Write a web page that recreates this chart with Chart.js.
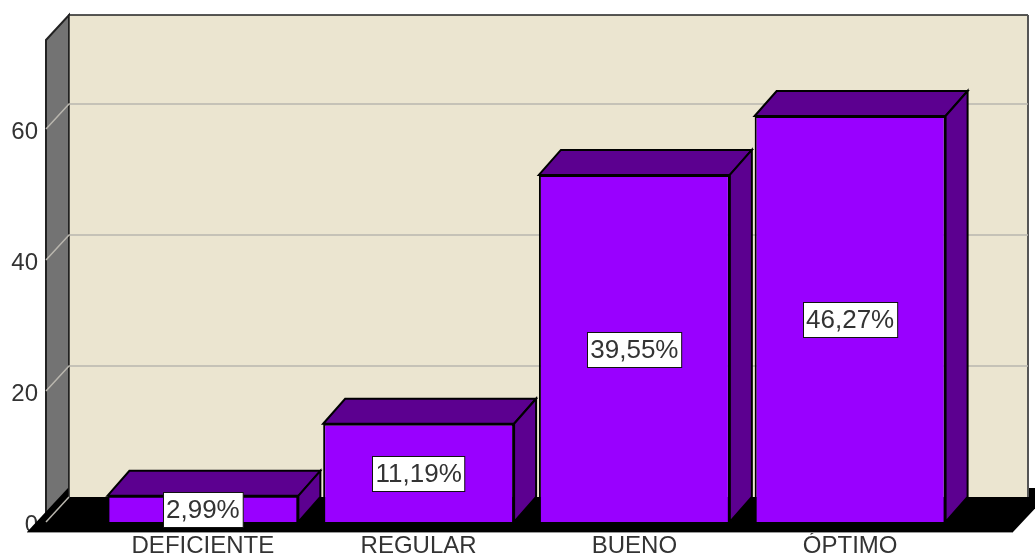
<!DOCTYPE html>
<html>
<head>
<meta charset="utf-8">
<style>html,body{margin:0;padding:0;background:#fff}canvas{display:block}</style>
<script src="https://cdn.jsdelivr.net/npm/chart.js@4"></script>
</head>
<body>
<canvas id="c" width="1035" height="555"></canvas>
<script>
const categories = ["DEFICIENTE", "REGULAR", "BUENO", "ÓPTIMO"];
const counts = [4, 15, 53, 62];
const percentLabels = ["2,99%", "11,19%", "39,55%", "46,27%"];
const yMax = 73.6;
const yStep = 20;
const FONT = '"Liberation Sans", Arial, sans-serif';

const barDepth = { dx: 22, dy: -25 };
const wallDepth = { dx: 23, dy: -25 };

function poly(ctx, pts, fill, stroke, lw) {
  ctx.beginPath();
  pts.forEach((p, i) => i ? ctx.lineTo(p[0], p[1]) : ctx.moveTo(p[0], p[1]));
  ctx.closePath();
  if (fill) { ctx.fillStyle = fill; ctx.fill(); }
  if (stroke) { ctx.strokeStyle = stroke; ctx.lineWidth = lw || 1; ctx.stroke(); }
}

const scene3d = {
  id: "scene3d",
  beforeDatasetsDraw(chart) {
    const ctx = chart.ctx, y = chart.scales.y;
    const base = y.getPixelForValue(0), top = y.getPixelForValue(yMax);
    const wl = 46, wr = 1005;
    const d = wallDepth;
    ctx.save();
    // left side wall
    poly(ctx, [[wl, top], [wl + d.dx, top + d.dy], [wl + d.dx, base + d.dy], [wl, base]], "#737373", "#222", 2);
    // floor slab
    poly(ctx, [[27, base + 10], [1013, base + 10], [1054, base - 34], [68, base - 34]], "#000");
    ctx.strokeStyle = "#999"; ctx.lineWidth = 1;
    ctx.beginPath(); ctx.moveTo(27, base + 10.5); ctx.lineTo(1013, base + 10.5); ctx.stroke();
    // back wall
    poly(ctx, [[wl + d.dx, top + d.dy], [wr + d.dx, top + d.dy], [wr + d.dx, base + d.dy], [wl + d.dx, base + d.dy]], "#ebe5d0");
    ctx.strokeStyle = "#222"; ctx.lineWidth = 1.5;
    ctx.beginPath(); ctx.moveTo(wl + d.dx, base + d.dy); ctx.lineTo(wl + d.dx, top + d.dy); ctx.lineTo(wr + d.dx, top + d.dy); ctx.stroke();
    ctx.strokeStyle = "#555"; ctx.lineWidth = 2;
    ctx.beginPath(); ctx.moveTo(wr + d.dx, top + d.dy); ctx.lineTo(wr + d.dx, base + d.dy); ctx.stroke();
    // grid lines: along the back wall and down the side wall
    y.ticks.forEach(t => {
      const py = y.getPixelForValue(t.value);
      ctx.strokeStyle = "#b9b6ae"; ctx.lineWidth = 1.5;
      ctx.beginPath();
      ctx.moveTo(wl, py); ctx.lineTo(wl + d.dx, py + d.dy);
      if (t.value !== 0) ctx.lineTo(wr + d.dx, py + d.dy);
      ctx.stroke();
    });
    // bar depth faces
    chart.getDatasetMeta(0).data.forEach(b => {
      const half = b.width / 2, l = b.x - half, r = b.x + half;
      const t = b.y, bt = b.base, q = barDepth;
      poly(ctx, [[l, t], [l + q.dx, t + q.dy], [r + q.dx, t + q.dy], [r, t]], "#5c0090", "#000", 2);
      poly(ctx, [[r, t], [r + q.dx, t + q.dy], [r + q.dx, bt + q.dy], [r, bt]], "#5c0090", "#000", 2);
    });
    ctx.restore();
  },
  afterDatasetsDraw(chart) {
    const ctx = chart.ctx;
    ctx.save();
    ctx.font = "26px " + FONT;
    ctx.textAlign = "center";
    ctx.textBaseline = "middle";
    chart.getDatasetMeta(0).data.forEach((b, i) => {
      const cy = (b.y + b.base) / 2 + 1;
      const w = ctx.measureText(percentLabels[i]).width + 6, h = 35;
      const x0 = Math.round(b.x - w / 2) + 0.5, y0 = Math.round(cy - h / 2) + 0.5;
      ctx.fillStyle = "#fff"; ctx.fillRect(x0, y0, w, h);
      ctx.strokeStyle = "#111"; ctx.lineWidth = 1; ctx.strokeRect(x0, y0, w, h);
      ctx.fillStyle = "#333";
      ctx.fillText(percentLabels[i], b.x, cy + 1);
    });
    ctx.restore();
  }
};

new Chart(document.getElementById("c"), {
  type: "bar",
  data: {
    labels: categories,
    datasets: [{
      data: counts,
      backgroundColor: "#9900ff",
      borderColor: "#000",
      borderWidth: 2,
      barPercentage: 0.885,
      categoryPercentage: 1
    }]
  },
  plugins: [scene3d],
  options: {
    responsive: false,
    maintainAspectRatio: false,
    animation: false,
    layout: { padding: { top: 40, right: 77, left: 0, bottom: 0 } },
    plugins: { legend: { display: false }, title: { display: false }, tooltip: { enabled: false } },
    scales: {
      x: {
        afterFit(s) { s.height = 33; s.paddingLeft = 0; s.paddingRight = 0; },
        grid: { display: false },
        border: { display: false },
        ticks: { color: "#333", font: { family: FONT, size: 24 }, padding: 2, maxRotation: 0, autoSkip: false }
      },
      y: {
        min: 0,
        max: yMax,
        afterFit(s) { s.width = 95; s.paddingTop = 0; s.paddingBottom = 0; },
        grid: { display: false, drawTicks: false, tickLength: 0 },
        border: { display: false },
        ticks: { stepSize: yStep, includeBounds: false, color: "#333", font: { family: FONT, size: 24 }, padding: 57, labelOffset: 3 }
      }
    }
  }
});
</script>
</body>
</html>
